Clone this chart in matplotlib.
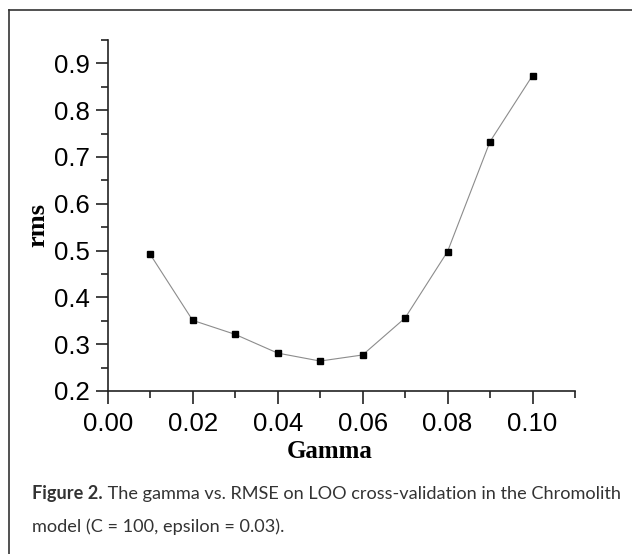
import numpy as np
import matplotlib
matplotlib.use('Agg')
import matplotlib.pyplot as plt
from matplotlib.lines import Line2D
from matplotlib.ticker import MultipleLocator, FormatStrFormatter

plt.rcParams['font.family'] = ['Liberation Sans', 'DejaVu Sans']

# значения
gamma = [0.01, 0.02, 0.03, 0.04, 0.05, 0.06, 0.07, 0.08, 0.09, 0.10]
rms = [0.492, 0.351, 0.321, 0.281, 0.264, 0.277, 0.356, 0.498, 0.733, 0.874]

caption_bold = 'Figure 2.'
caption_1 = ' The gamma vs. RMSE on LOO cross-validation in the Chromolith'
caption_2 = 'model (C = 100, epsilon = 0.03).'

W, H = 632, 554
fig = plt.figure(figsize=(W / 100, H / 100), dpi=100)
ax = fig.add_axes([107.7 / W, 1 - 391 / H, (575 - 107.7) / W, (391 - 40) / H])

ax.plot(gamma, rms, color='#8c8c8c', lw=0.8, marker='s', ms=5,
        mfc='black', mec='black', zorder=3)

ax.set_xlim(0, 0.11)
ax.set_ylim(0.2, 0.95)
ax.xaxis.set_major_locator(MultipleLocator(0.02))
ax.xaxis.set_minor_locator(MultipleLocator(0.01))
ax.yaxis.set_major_locator(MultipleLocator(0.1))
ax.yaxis.set_minor_locator(MultipleLocator(0.05))
ax.xaxis.set_major_formatter(FormatStrFormatter('%.2f'))
ax.yaxis.set_major_formatter(FormatStrFormatter('%.1f'))

for s in ['top', 'right']:
    ax.spines[s].set_visible(False)
for s in ['left', 'bottom']:
    ax.spines[s].set_linewidth(1.2)
    ax.spines[s].set_color('#222222')

ax.tick_params(which='major', direction='out', length=9, width=1.2, color='#222222',
               labelsize=18.5)
ax.tick_params(which='minor', direction='out', length=5, width=1.2, color='#222222')
ax.tick_params(axis='y', which='major', pad=4)
ax.tick_params(axis='x', which='major', pad=6)

ax.set_xlabel('Gamma', fontfamily='Liberation Serif', fontweight='bold', fontsize=18,
              va='center')
ax.xaxis.set_label_coords((330 - 107.7) / (575 - 107.7), -(451 - 391) / (391 - 40))
ax.set_ylabel('rms', fontfamily='Liberation Serif', fontweight='bold', fontsize=19,
              va='center')
ax.yaxis.set_label_coords(-(107.7 - 37.5) / (575 - 107.7), (391 - 225) / (391 - 40))

# рамка вокруг рисунка
fig.add_artist(Line2D([9 / W, 1], [1 - 10 / H, 1 - 10 / H], color='#333333', lw=1.2))
fig.add_artist(Line2D([9 / W, 9 / W], [0, 1 - 10 / H], color='#333333', lw=1.2))

# подпись
cap_font = ['Lato', 'DejaVu Sans']
cap_size = 13.1
t1 = fig.text(32 / W, 1 - 493 / H, caption_bold, fontfamily=cap_font, fontweight='bold',
              fontsize=cap_size, color='#333333', va='center', ha='left')
fig.canvas.draw()
ax.annotate(caption_1, xy=(1, 0), xycoords=t1, va='bottom', ha='left',
            fontfamily=cap_font, fontsize=cap_size, color='#333333', annotation_clip=False)
fig.text(32 / W, 1 - 527 / H, caption_2, fontfamily=cap_font, fontsize=cap_size,
         color='#333333', va='center', ha='left')

fig.savefig('out.png', dpi=100)
